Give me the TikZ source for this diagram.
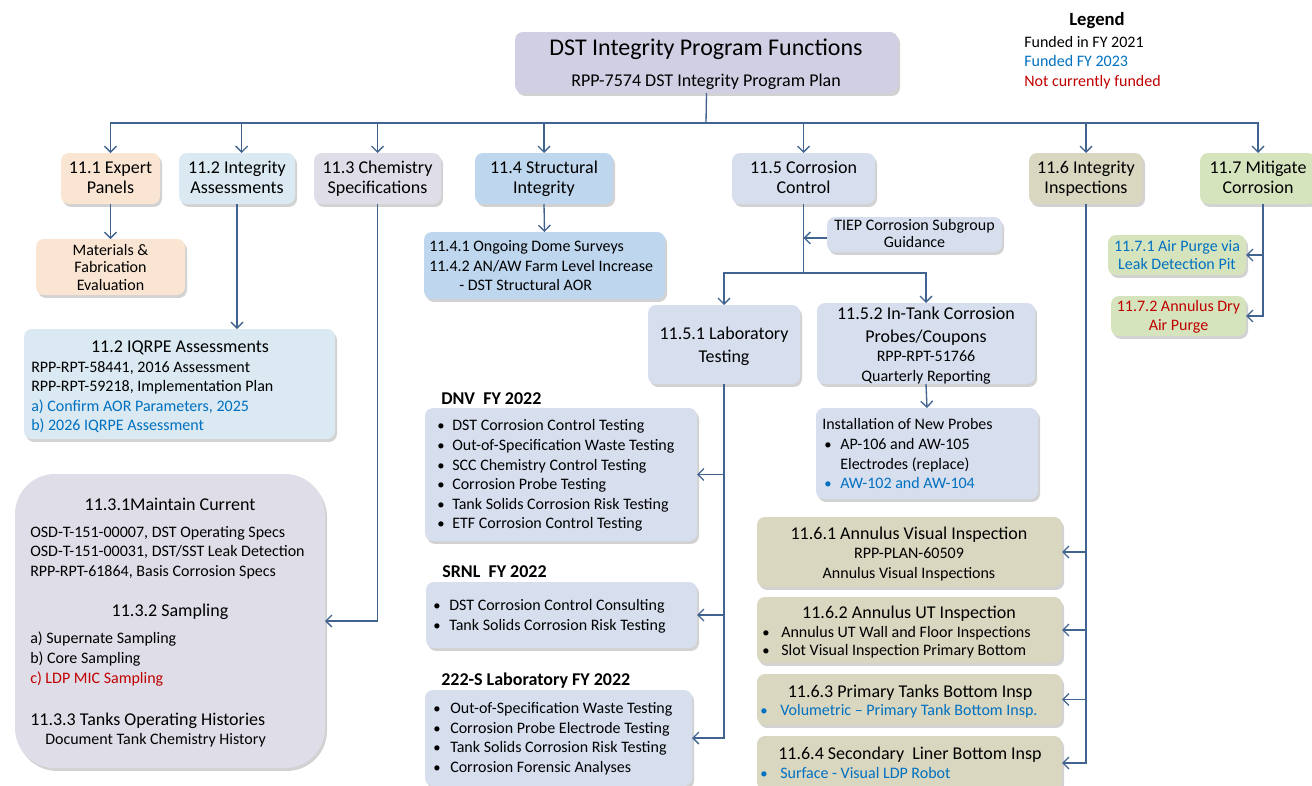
\documentclass[tikz,border=0pt]{standalone}
\usepackage{fontspec}
\setmainfont{Carlito}
\usetikzlibrary{arrows.meta,shadows,fit}
\definecolor{linec}{HTML}{41638F}
\definecolor{cTop}{HTML}{D0CFE3}
\definecolor{cPeach}{HTML}{FAE5D3}
\definecolor{cLBlue}{HTML}{DAE9F2}
\definecolor{cLav}{HTML}{DFDEE8}
\definecolor{cBlue}{HTML}{BED6EE}
\definecolor{cBGray}{HTML}{D7DFEF}
\definecolor{cKhaki}{HTML}{D9D7C0}
\definecolor{cGreen}{HTML}{D6E4BE}
\definecolor{tBlue}{HTML}{0070C0}
\definecolor{tRed}{HTML}{C00000}
\tikzset{
  rbox/.style={rounded corners=6pt, inner sep=0pt, outer sep=0pt,
    drop shadow={shadow xshift=1.5pt,shadow yshift=-2.2pt,opacity=0.25,fill=black!70}},
  conn/.style={draw=linec, line width=1pt},
  arr/.style={conn, -{Straight Barb[length=4.5pt,width=9pt]}},
  bodyL/.style={inner sep=0pt, anchor=base west, font=\fontsize{12}{14.6}\selectfont},
  bodyC/.style={inner sep=0pt, anchor=base, font=\fontsize{12}{14.6}\selectfont},
  headC/.style={inner sep=0pt, anchor=base, font=\fontsize{13.5}{15}\selectfont},
  headL/.style={inner sep=0pt, anchor=base west, font=\fontsize{13.5}{15}\selectfont},
  boldL/.style={inner sep=0pt, anchor=base west, font=\fontsize{13.5}{15}\selectfont\bfseries},
  bul/.style={inner sep=0pt, anchor=base, font=\fontsize{11}{14.6}\selectfont},
}
\begin{document}
\begin{tikzpicture}[x=0.75pt,y=-0.75pt]
\useasboundingbox (0,0) rectangle (1312,785);
\clip (0,0) rectangle (1312,785);
% legend
\node[inner sep=0pt, anchor=base, font=\fontsize{14}{16}\selectfont\bfseries] (lgT) at (1097,26) {Legend};
\node[bodyL] (lg1) at (1024,47) {Funded in FY 2021};
\node[bodyL, text=tBlue] (lg2) at (1024,66) {Funded FY 2023};
\node[bodyL, text=tRed] (lg3) at (1024,86) {Not currently funded};
% top
\node[rbox, fill=cTop, fit={(515,32)(898,93)}] (top) {};
\node[inner sep=0pt, anchor=base, font=\fontsize{18}{20}\selectfont] (topT) at (706,55) {DST Integrity Program Functions};
\node[headC] (topS) at (706,86) {RPP-7574 DST Integrity Program Plan};
% level 1
\coordinate (La) at (0,173);
\coordinate (Lb) at (0,193);
\node[rbox, fill=cPeach, fit={(61,153)(160,204)}] (n11) {};
\node[rbox, fill=cLBlue, fit={(179,153)(295,204)}] (n12) {};
\node[rbox, fill=cLav, fit={(314,153)(441,204)}] (n13) {};
\node[rbox, fill=cBlue, fit={(475,153)(613,204)}] (n14) {};
\node[rbox, fill=cBGray, fit={(732,153)(875,204)}] (n15) {};
\node[rbox, fill=cKhaki, fit={(1029,153)(1143,204)}] (n16) {};
\node[rbox, fill=cGreen, fit={(1200,153)(1316,204)}] (n17) {};
\node[headC] (n11a) at (n11 |- La) {11.1 Expert};
\node[headC] (n11b) at (n11 |- Lb) {Panels};
\node[headC] (n12a) at (n12 |- La) {11.2 Integrity};
\node[headC] (n12b) at (n12 |- Lb) {Assessments};
\node[headC] (n13a) at (n13 |- La) {11.3 Chemistry};
\node[headC] (n13b) at (n13 |- Lb) {Specifications};
\node[headC] (n14a) at (n14 |- La) {11.4 Structural};
\node[headC] (n14b) at (n14 |- Lb) {Integrity};
\node[headC] (n15a) at (n15 |- La) {11.5 Corrosion};
\node[headC] (n15b) at (n15 |- Lb) {Control};
\node[headC] (n16a) at (n16 |- La) {11.6 Integrity};
\node[headC] (n16b) at (n16 |- Lb) {Inspections};
\node[headC] (n17a) at (1258,173) {11.7 Mitigate};
\node[headC] (n17b) at (1258,193) {Corrosion};
% 11.1
\node[rbox, fill=cPeach, fit={(36,239)(185,295)}] (mat) {};
\node[bodyC] (mata) at (110.5,255) {Materials \&};
\node[bodyC] (matb) at (110.5,272.5) {Fabrication};
\node[bodyC] (matc) at (110.5,290) {Evaluation};
% 11.4
\node[rbox, fill=cBlue, fit={(424,232)(665,299)}] (s41) {};
\node[bodyL] (s41a) at (429,251) {11.4.1 Ongoing Dome Surveys};
\node[bodyL] (s41b) at (429,271) {11.4.2 AN/AW Farm Level Increase};
\node[bodyL] (s41c) at (459,290) {- DST Structural AOR};
% 11.2
\node[rbox, fill=cLBlue, fit={(24,329)(335,439)}] (iq) {};
\node[headC] (iqT) at (180,352) {11.2 IQRPE Assessments};
\node[bodyL] (iq1) at (31,372) {RPP-RPT-58441, 2016 Assessment};
\node[bodyL] (iq2) at (31,391) {RPP-RPT-59218, Implementation Plan};
\node[bodyL, text=tBlue] (iq3) at (31,411) {a) Confirm AOR Parameters, 2025};
\node[bodyL, text=tBlue] (iq4) at (31,430) {b) 2026 IQRPE Assessment};
% 11.3
\node[rbox, rounded corners=30pt, fill=cLav, fit={(15,474)(325,768)}] (chem) {};
\node[headC] (c1T) at (170,510) {11.3.1Maintain Current};
\node[bodyL] (c1a) at (30,537) {OSD-T-151-00007, DST Operating Specs};
\node[bodyL] (c1b) at (30,556) {OSD-T-151-00031, DST/SST Leak Detection};
\node[bodyL] (c1c) at (30,576) {RPP-RPT-61864, Basis Corrosion Specs};
\node[headC] (c2T) at (170,616) {11.3.2 Sampling};
\node[bodyL] (c2a) at (30,643) {a) Supernate Sampling};
\node[bodyL] (c2b) at (30,663) {b) Core Sampling};
\node[bodyL, text=tRed] (c2c) at (30,683) {c) LDP MIC Sampling};
\node[headL] (c3T) at (30,725) {11.3.3 Tanks Operating Histories};
\node[bodyL] (c3a) at (45,744) {Document Tank Chemistry History};
% 11.5
\node[rbox, fill=cBGray, fit={(827,217)(1002,252)}] (tiep) {};
\node[bodyC] (tiepa) at (914.5,230) {TIEP Corrosion Subgroup};
\node[bodyC] (tiepb) at (914.5,247) {Guidance};
\node[rbox, fill=cBGray, fit={(648,305)(800,384)}] (l1) {};
\node[headC] (l1a) at (724,339) {11.5.1 Laboratory};
\node[headC] (l1b) at (724,362) {Testing};
\node[rbox, fill=cBGray, fit={(817,303)(1035,384)}] (l2) {};
\node[headC] (l2a) at (926,319) {11.5.2 In-Tank Corrosion};
\node[headC] (l2b) at (926,342) {Probes/Coupons};
\node[bodyC] (l2c) at (926,361) {RPP-RPT-51766};
\node[bodyC] (l2d) at (926,381) {Quarterly Reporting};
\node[rbox, fill=cBGray, fit={(816,408)(1038,499)}] (inst) {};
\node[bodyL] (ina) at (822,429) {Installation of New Probes};
\node[bul] (inb0) at (828,449) {•};
\node[bodyL] (inb) at (840,449) {AP-106 and AW-105};
\node[bodyL] (inc) at (840,469) {Electrodes (replace)};
\node[bul, text=tBlue] (ind0) at (828,488) {•};
\node[bodyL, text=tBlue] (ind) at (840,488) {AW-102 and AW-104};
% DNV
\node[boldL] (dnvL) at (441,404) {DNV\ \ FY 2022};
\node[rbox, fill=cBGray, fit={(425,408)(697,541)}] (dnv) {};
\node[bul] (d1b) at (441,430) {•}; \node[bodyL] (d1) at (452,430) {DST Corrosion Control Testing};
\node[bul] (d2b) at (441,450) {•}; \node[bodyL] (d2) at (452,450) {Out-of-Specification Waste Testing};
\node[bul] (d3b) at (441,470) {•}; \node[bodyL] (d3) at (452,470) {SCC Chemistry Control Testing};
\node[bul] (d4b) at (441,489) {•}; \node[bodyL] (d4) at (452,489) {Corrosion Probe Testing};
\node[bul] (d5b) at (441,509) {•}; \node[bodyL] (d5) at (452,509) {Tank Solids Corrosion Risk Testing};
\node[bul] (d6b) at (441,528) {•}; \node[bodyL] (d6) at (452,528) {ETF Corrosion Control Testing};
% SRNL
\node[boldL] (srL) at (442,577) {SRNL\ \ FY 2022};
\node[rbox, fill=cBGray, fit={(426,582)(697,648)}] (srnl) {};
\node[bul] (r1b) at (437,610) {•}; \node[bodyL] (r1) at (449,610) {DST Corrosion Control Consulting};
\node[bul] (r2b) at (437,630) {•}; \node[bodyL] (r2) at (449,630) {Tank Solids Corrosion Risk Testing};
% 222-S
\node[boldL] (labL) at (441,685) {222-S Laboratory FY 2022};
\node[rbox, fill=cBGray, fit={(425,690)(692,786)}] (lab) {};
\node[bul] (k1b) at (437,713) {•}; \node[bodyL] (k1) at (450,713) {Out-of-Specification Waste Testing};
\node[bul] (k2b) at (437,733) {•}; \node[bodyL] (k2) at (450,733) {Corrosion Probe Electrode Testing};
\node[bul] (k3b) at (437,752) {•}; \node[bodyL] (k3) at (450,752) {Tank Solids Corrosion Risk Testing};
\node[bul] (k4b) at (437,772) {•}; \node[bodyL] (k4) at (450,772) {Corrosion Forensic Analyses};
% 11.6
\node[rbox, fill=cKhaki, fit={(757,517)(1062,587)}] (i1) {};
\node[headC] (i1a) at (909,539) {11.6.1 Annulus Visual Inspection};
\node[bodyC] (i1b) at (909,558) {RPP-PLAN-60509};
\node[bodyC] (i1c) at (909,578) {Annulus Visual Inspections};
\node[rbox, fill=cKhaki, fit={(757,597)(1062,663)}] (i2) {};
\node[headC] (i2a) at (909,618) {11.6.2 Annulus UT Inspection};
\node[bul] (i2bb) at (766,637) {•}; \node[bodyL] (i2b) at (781,637) {Annulus UT Wall and Floor Inspections};
\node[bul] (i2cb) at (766,655) {•}; \node[bodyL] (i2c) at (781,655) {Slot Visual Inspection Primary Bottom};
\node[rbox, fill=cKhaki, fit={(757,674)(1062,725)}] (i3) {};
\node[headC] (i3a) at (910,697) {11.6.3 Primary Tanks Bottom Insp};
\node[bul, text=tBlue] (i3bb) at (764,715) {•}; \node[bodyL, text=tBlue] (i3b) at (780,715) {Volumetric – Primary Tank Bottom Insp.};
\node[rbox, fill=cKhaki, fit={(757,736)(1062,790)}] (i4) {};
\node[headC] (i4a) at (910,759) {11.6.4 Secondary\ \ Liner Bottom Insp};
\node[bul, text=tBlue] (i4bb) at (764,778) {•}; \node[bodyL, text=tBlue] (i4b) at (780,778) {Surface - Visual LDP Robot};
% 11.7
\node[rbox, fill=cGreen, fit={(1108,235)(1246,275)}] (p71) {};
\node[bodyC, text=tBlue] (p71a) at (1177,251) {11.7.1 Air Purge via};
\node[bodyC, text=tBlue] (p71b) at (1177,269) {Leak Detection Pit};
\node[rbox, fill=cGreen, fit={(1111,296)(1246,336)}] (p72) {};
\node[bodyC, text=tRed] (p72a) at (1178.5,311) {11.7.2 Annulus Dry};
\node[bodyC, text=tRed] (p72b) at (1178.5,330) {Air Purge};
% connectors
\coordinate (bus) at (706,123);
\draw[conn] (top.south) -- (bus);
\foreach \n in {n11,n13,n14,n15,n16,n17} \draw[arr] (bus) -| (\n.north);
\draw[arr] (bus) -| ([xshift=3.5pt]n12.north);
\draw[arr] (n11.south) -- (mat.north);
\draw[arr] (n14.south) -- (s41.north);
\draw[arr] (n12.south) -- (n12.south |- iq.north);
\draw[arr] (n13.south) |- (chem.east);
\draw[conn] (n15.south) -- ++(0,69) coordinate (j5);
\draw[arr] ([yshift=-2.6pt]tiep.west) -- ([yshift=-2.6pt]tiep.west -| n15.south);
\draw[arr] (j5) -| (l1.north);
\draw[arr] (j5) -| (l2.north);
\draw[arr] (l2.south) -- (inst.north);
\foreach \b in {dnv,srnl,lab} \draw[arr] (l1.south) |- (\b.east);
\foreach \b in {i1,i2,i3,i4} \draw[arr] (n16.south) |- (\b.east);
\foreach \b in {p71,p72} \draw[arr] ([xshift=3.75pt]n17.south) |- (\b.east);
\end{tikzpicture}
\end{document}
